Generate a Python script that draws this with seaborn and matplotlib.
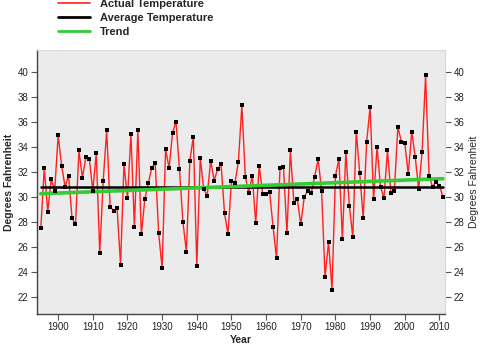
import numpy as np
import pandas as pd
import matplotlib
matplotlib.use("Agg")
import matplotlib.pyplot as plt
import seaborn as sns
from matplotlib.lines import Line2D

years = list(range(1895, 2012))
temps = [
    27.5, 32.3, 28.8, 31.4, 30.5,                      # 1895-1899
    34.9, 32.5, 30.8, 31.7, 28.3, 27.8, 33.7, 31.5, 33.2, 33.0,  # 1900s
    30.5, 33.5, 25.5, 31.3, 35.3, 29.2, 28.9, 29.1, 24.6, 32.6,  # 1910s
    29.9, 35.0, 27.6, 35.3, 27.0, 29.8, 31.1, 32.3, 32.7, 27.1,  # 1920s
    24.3, 33.8, 32.3, 35.1, 36.0, 32.2, 28.0, 25.6, 32.9, 34.8,  # 1930s
    24.5, 33.1, 30.6, 30.1, 32.9, 31.3, 32.2, 32.6, 28.7, 27.0,  # 1940s
    31.3, 31.1, 32.8, 37.3, 31.6, 30.3, 31.7, 27.9, 32.5, 30.2,  # 1950s
    30.2, 30.4, 27.6, 25.1, 32.3, 32.4, 27.1, 33.7, 29.5, 29.8,  # 1960s
    27.8, 30.0, 30.5, 30.3, 31.6, 33.0, 30.5, 23.6, 26.4, 22.6,  # 1970s
    31.7, 33.0, 26.6, 33.6, 29.3, 26.8, 35.2, 31.9, 28.3, 34.4,  # 1980s
    37.2, 29.8, 34.0, 30.8, 29.9, 33.7, 30.3, 30.5, 35.6, 34.4,  # 1990s
    34.3, 31.8, 35.2, 33.2, 30.6, 33.6, 39.7, 31.7, 30.8, 31.2,  # 2000s
    30.9, 30.0,                                          # 2010-2011
]
average_temp = 30.78
trend_years = [1895, 2011]
trend_temps = [30.25, 31.45]
y_ticks = [22, 24, 26, 28, 30, 32, 34, 36, 38, 40]
x_ticks = [1900, 1910, 1920, 1930, 1940, 1950, 1960, 1970, 1980, 1990, 2000, 2010]

df = pd.DataFrame({"Year": years, "Temp": temps})
avg_df = pd.DataFrame({"Year": [years[0], years[-1]], "Temp": [average_temp, average_temp]})
trend_df = pd.DataFrame({"Year": trend_years, "Temp": trend_temps})

sns.set_style("white", {"axes.facecolor": "#EBEBEB"})
plt.rcParams["font.family"] = ["Liberation Sans", "DejaVu Sans"]

fig = plt.figure(figsize=(4.85, 3.5), dpi=100)
ax = fig.add_axes([37 / 485, 1 - 314 / 350, (445 - 37) / 485, (314 - 50) / 350])

red = "#FF2020"
black = "#000000"
green = "#33CC33"

sns.lineplot(data=df, x="Year", y="Temp", ax=ax, color=red, linewidth=1.0, zorder=2)
sns.lineplot(data=avg_df, x="Year", y="Temp", ax=ax, color=black, linewidth=1.8, zorder=3)
sns.lineplot(data=trend_df, x="Year", y="Temp", ax=ax, color=green, linewidth=2.6, zorder=4)
sns.scatterplot(data=df, x="Year", y="Temp", ax=ax, color=black, marker="s", s=7,
                linewidth=0, zorder=5)

ax.set_xlim(1893.9, 2011.6)
ax.set_ylim(20.65, 41.72)
ax.set_xticks(x_ticks)
ax.set_yticks(y_ticks)

for side in ["left", "bottom"]:
    ax.spines[side].set_color("#444444")
    ax.spines[side].set_linewidth(1.0)
for side in ["top", "right"]:
    ax.spines[side].set_color("#D8D8D8")
    ax.spines[side].set_linewidth(0.8)

ax.set_xlabel("Year", fontsize=7.5, fontweight="bold", labelpad=2)
ax.set_ylabel("Degrees Fahrenheit", fontsize=7.5, fontweight="bold", labelpad=3)

# right-side axis title
ax2 = ax.twinx()
ax2.set_ylim(ax.get_ylim())
ax2.set_yticks([])
ax2.set_ylabel("Degrees Fahrenheit", fontsize=7.5, labelpad=17)
for s in ax2.spines.values():
    s.set_visible(False)

ax.tick_params(axis="both", labelsize=7, length=4, width=0.8, color="#555555",
               labelcolor="#222222", pad=2, direction="out")
ax.tick_params(axis="y", left=True, right=True, labelleft=True, labelright=True)
ax.tick_params(axis="x", bottom=True)

handles = [
    Line2D([], [], color=red, linewidth=1.2),
    Line2D([], [], color=black, linewidth=2.0),
    Line2D([], [], color=green, linewidth=2.0),
]
labels = ["Actual Temperature", "Average Temperature", "Trend"]
fig.legend(handles, labels, loc="upper left", bbox_to_anchor=(58 / 485, 1 + 1 / 350),
           frameon=False, handlelength=2.9, handletextpad=0.9,
           labelspacing=0.35, borderpad=0, borderaxespad=0,
           prop={"weight": "bold", "size": 8})

fig.savefig("out.png", dpi=100)
